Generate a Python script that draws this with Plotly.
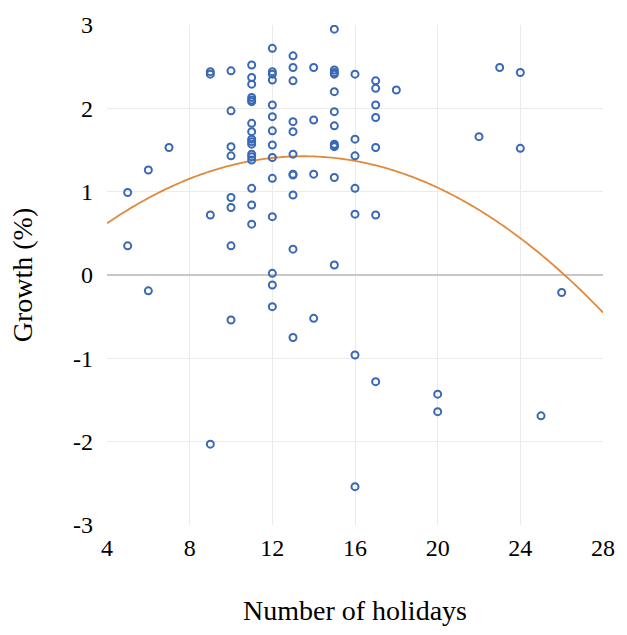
import numpy as np
import plotly.graph_objects as go

holidays = [5, 5, 6, 6, 7,
            9, 9, 9, 9,
            10, 10, 10, 10, 10, 10, 10, 10,
            11, 11, 11, 11, 11, 11, 11, 11, 11, 11, 11, 11, 11, 11, 11, 11, 11,
            12, 12, 12, 12, 12, 12, 12, 12, 12, 12, 12, 12, 12, 12,
            13, 13, 13, 13, 13, 13, 13, 13, 13, 13, 13,
            14, 14, 14, 14,
            15, 15, 15, 15, 15, 15, 15, 15, 15, 15, 15, 15,
            16, 16, 16, 16, 16, 16, 16,
            17, 17, 17, 17, 17, 17, 17,
            18, 20, 20, 22, 23, 24, 24, 25, 26]
growth = [0.99, 0.35, 1.26, -0.19, 1.53,
          2.44, 2.41, 0.72, -2.03,
          2.45, 1.97, 1.54, 1.43, 0.93, 0.81, 0.35, -0.54,
          2.52, 2.37, 2.29, 2.13, 2.10, 2.08, 1.82, 1.72, 1.63, 1.60, 1.57, 1.45, 1.42, 1.38, 1.04, 0.84, 0.61,
          2.72, 2.44, 2.41, 2.34, 2.04, 1.90, 1.73, 1.56, 1.41, 1.16, 0.70, 0.02, -0.12, -0.38,
          2.63, 2.49, 2.33, 1.84, 1.72, 1.45, 1.21, 1.20, 0.96, 0.31, -0.75,
          2.49, 1.86, 1.21, -0.52,
          2.95, 2.46, 2.43, 2.41, 2.20, 1.96, 1.79, 1.57, 1.55, 1.54, 1.17, 0.12,
          2.41, 1.63, 1.43, 1.04, 0.73, -0.96, -2.54,
          2.33, 2.24, 2.04, 1.89, 1.53, 0.72, -1.28,
          2.22, -1.43, -1.64, 1.66, 2.49, 2.43, 1.52, -1.69, -0.21]

x_ticks = [4, 8, 12, 16, 20, 24, 28]
x_tick_labels = ["4", "8", "12", "16", "20", "24", "28"]
y_ticks = [3, 2, 1, 0, -1, -2, -3]
y_tick_labels = ["3", "2", "1", "0", "-1", "-2", "-3"]

# quadratic trend line (polynomial trendline)
trend_vertex_x = 13.5
trend_vertex_y = 1.425
trend_curv = -0.00892
tx = np.linspace(4, 28, 200)
ty = trend_curv * (tx - trend_vertex_x) ** 2 + trend_vertex_y

font = "Liberation Serif, Times New Roman, serif"

fig = go.Figure()
fig.add_trace(go.Scatter(
    x=tx, y=ty, mode="lines",
    line=dict(color="#E08A3C", width=1.8, shape="spline"),
    hoverinfo="skip", showlegend=False))
fig.add_trace(go.Scatter(
    x=holidays, y=growth, mode="markers",
    marker=dict(symbol="circle-open", size=7, color="#3A68B4",
                line=dict(width=2, color="#3A68B4")),
    showlegend=False))

fig.update_layout(
    width=627, height=635,
    margin=dict(l=107, r=19, t=21, b=110),
    paper_bgcolor="white", plot_bgcolor="white",
    font=dict(family=font, size=24, color="#000000"),
    xaxis=dict(range=[4, 28], tickvals=x_ticks, ticktext=x_tick_labels,
               showgrid=True, gridcolor="#EBEBEB", gridwidth=1,
               zeroline=False, showline=False, ticks="", ticklabelstandoff=6,
               tickfont=dict(family=font, size=24),
               title=dict(text="Number of holidays", standoff=40,
                          font=dict(family=font, size=28))),
    yaxis=dict(range=[-3, 3], tickvals=y_ticks, ticktext=y_tick_labels,
               showgrid=True, gridcolor="#EBEBEB", gridwidth=1,
               zeroline=True, zerolinecolor="#C8C8C8", zerolinewidth=1.5,
               showline=False, ticks="", ticklabelstandoff=13,
               tickfont=dict(family=font, size=24),
               title=dict(text="Growth (%)", standoff=32,
                          font=dict(family=font, size=28))),
)

fig.write_html("out.html")
